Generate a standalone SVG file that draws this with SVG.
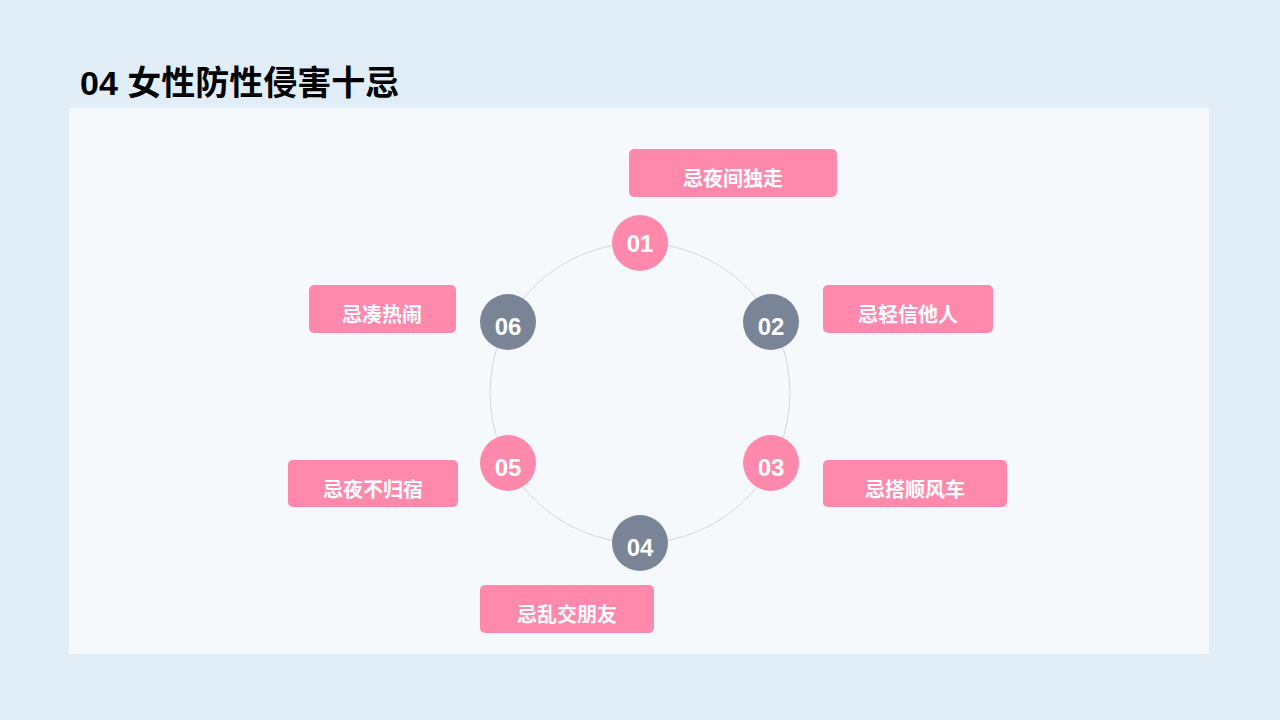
<svg xmlns="http://www.w3.org/2000/svg" width="1280" height="720" viewBox="0 0 1280 720">
<style>
.t{font-family:"Liberation Sans","Noto Sans CJK SC",sans-serif;font-weight:bold}
.lb{fill:#FF89AD}
.lt{fill:#fff;font-size:20px;text-anchor:middle}
.pk{fill:#FF89AD}
.gy{fill:#798596}
.nt{fill:#fff;font-size:24px;text-anchor:middle}
</style>
<rect width="1280" height="720" fill="#E1EEF8"/>
<text class="t" x="80" y="95" font-size="34" fill="#000">04 女性防性侵害十忌</text>
<rect x="69" y="108" width="1140" height="546" fill="#F5F9FC"/>
<g id="connectors"><circle cx="640" cy="393" r="150" fill="none" stroke="#D3D7DB" stroke-width="1"/></g>
<g id="n1"><circle class="pk" cx="640" cy="243" r="28"/><text class="t nt" x="640" y="252">01</text>
<rect class="lb" x="629" y="149" width="208" height="48" rx="5"/><text class="t lt" x="733" y="186">忌夜间独走</text></g>
<g id="n2"><circle class="gy" cx="771" cy="322" r="28"/><text class="t nt" x="771" y="335">02</text>
<rect class="lb" x="823" y="285" width="170" height="48" rx="5"/><text class="t lt" x="908" y="322">忌轻信他人</text></g>
<g id="n3"><circle class="pk" cx="771" cy="463" r="28"/><text class="t nt" x="771" y="476">03</text>
<rect class="lb" x="823" y="460" width="184" height="47" rx="5"/><text class="t lt" x="915" y="497">忌搭顺风车</text></g>
<g id="n4"><circle class="gy" cx="640" cy="543" r="28"/><text class="t nt" x="640" y="556">04</text>
<rect class="lb" x="480" y="585" width="174" height="48" rx="5"/><text class="t lt" x="567" y="622">忌乱交朋友</text></g>
<g id="n5"><circle class="pk" cx="508" cy="463" r="28"/><text class="t nt" x="508" y="476">05</text>
<rect class="lb" x="288" y="460" width="170" height="47" rx="5"/><text class="t lt" x="373" y="497">忌夜不归宿</text></g>
<g id="n6"><circle class="gy" cx="508" cy="322" r="28"/><text class="t nt" x="508" y="335">06</text>
<rect class="lb" x="309" y="285" width="147" height="48" rx="5"/><text class="t lt" x="382" y="322">忌凑热闹</text></g>
</svg>
